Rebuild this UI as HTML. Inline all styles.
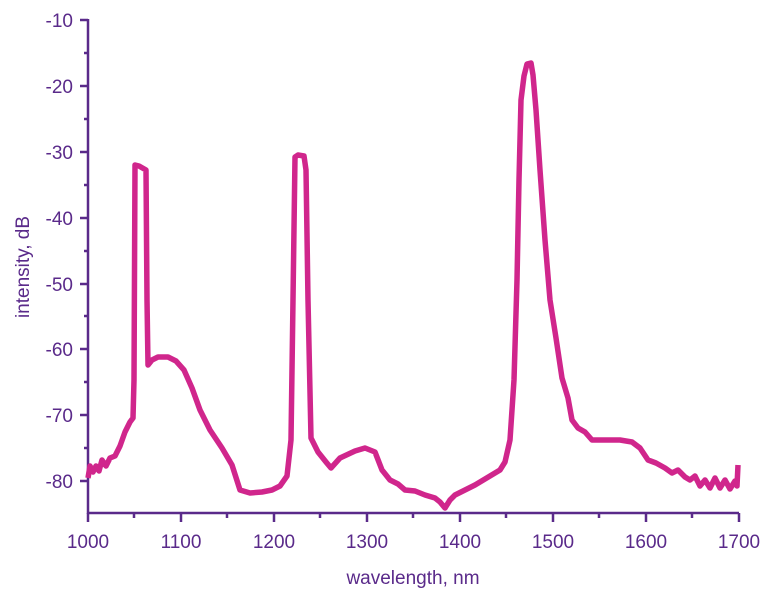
<!DOCTYPE html>
<html><head><meta charset="utf-8"><style>body{margin:0;background:#fff}svg{display:block}</style></head>
<body>
<svg width="773" height="590" xmlns="http://www.w3.org/2000/svg" font-family="Liberation Sans, sans-serif">
<g stroke="#5a2a8a" stroke-width="2.5" fill="none">
<line x1="88" y1="19" x2="88" y2="514"/>
<line x1="87" y1="513" x2="739" y2="513"/>
<path d="M80 20H88M80 86H88M80 152H88M80 218H88M80 284H88M80 349H88M80 415H88M80 481H88
M84 53H88M84 119H88M84 185H88M84 251H88M84 316H88M84 382H88M84 448H88
M88 513V522M181 513V522M274 513V522M367 513V522M460 513V522M553 513V522M646 513V522M739 513V522
M134 513V518M227 513V518M320 513V518M413 513V518M506 513V518M599 513V518M692 513V518"/>
</g>
<g fill="#5a2a8a" font-size="19" text-anchor="end">
<text x="73" y="27">-10</text><text x="73" y="93">-20</text><text x="73" y="159">-30</text>
<text x="73" y="225">-40</text><text x="73" y="291">-50</text><text x="73" y="356">-60</text>
<text x="73" y="422">-70</text><text x="73" y="488">-80</text>
</g>
<g fill="#5a2a8a" font-size="19" text-anchor="middle">
<text x="88" y="548">1000</text><text x="181" y="548">1100</text><text x="274" y="548">1200</text>
<text x="367" y="548">1300</text><text x="460" y="548">1400</text><text x="553" y="548">1500</text>
<text x="646" y="548">1600</text><text x="739" y="548">1700</text>
<text x="413" y="584">wavelength, nm</text>
<text transform="translate(29,267) rotate(-90)">intensity, dB</text>
</g>
<polyline fill="none" stroke="#d0268c" stroke-width="5.5" stroke-linejoin="round" points="88,478 90,466 93,472 96,466 99,471 102,460 106,466 110,458 115,456 120,446 125,432 130,422 133,418 134,380 135,165 139,166 146,170 147,300 148,365 152,360 158,357 168,357 176,361 184,370 192,388 200,410 210,430 222,448 232,465 240,490 250,493 262,492 272,490 280,486 287,476 291,440 293,300 295,157 298,155 304,156 306,170 308,300 311,438 318,452 326,462 331,468 340,458 355,451 365,448 375,452 382,470 390,480 398,484 405,490 415,491 425,495 435,498 440,502 445,508 450,500 455,495 465,490 475,485 490,476 500,470 505,462 510,440 514,380 517,280 519,180 521,100 524,76 527,64 531,63 533,75 536,110 540,170 545,240 550,300 556,338 562,378 568,398 572,420 578,428 585,432 592,440 605,440 620,440 632,442 640,448 648,460 656,463 665,468 672,473 678,470 685,477 690,480 695,476 700,486 705,480 710,488 715,478 720,488 725,480 730,489 735,481 737,486 738,465"/>
</svg>
</body></html>
